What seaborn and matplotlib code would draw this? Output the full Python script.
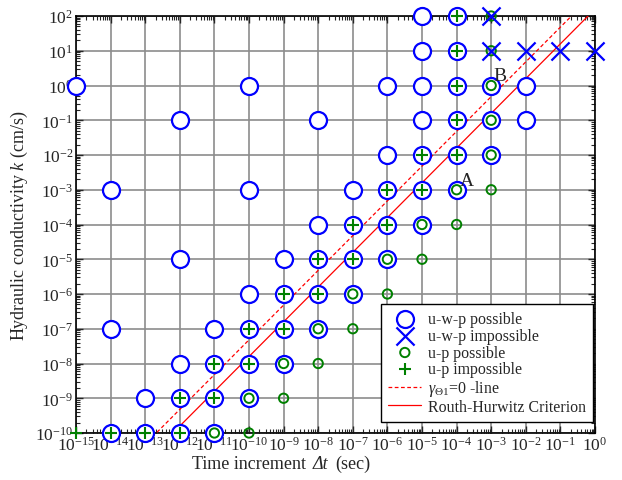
import numpy as np
import pandas as pd
import matplotlib
matplotlib.use("Agg")
import matplotlib.pyplot as plt
from matplotlib.offsetbox import TextArea, HPacker, AnchoredOffsetbox
import seaborn as sns

# ---- data (log10 of time increment, log10 of hydraulic conductivity) ----
uwp_possible_dt = [-5, -4,
                   -5, -4,
                   -15, -10, -6, -5, -4, -3, -2,
                   -12, -8, -5, -4, -3, -2,
                   -6, -5, -4, -3,
                   -14, -10, -7, -6, -5, -4,
                   -8, -7, -6, -5,
                   -12, -9, -8, -7, -6,
                   -10, -9, -8, -7,
                   -14, -11, -10, -9, -8,
                   -12, -11, -10, -9,
                   -13, -12, -11, -10,
                   -14, -13, -12, -11]
uwp_possible_k = [2, 2,
                  1, 1,
                  0, 0, 0, 0, 0, 0, 0,
                  -1, -1, -1, -1, -1, -1,
                  -2, -2, -2, -2,
                  -3, -3, -3, -3, -3, -3,
                  -4, -4, -4, -4,
                  -5, -5, -5, -5, -5,
                  -6, -6, -6, -6,
                  -7, -7, -7, -7, -7,
                  -8, -8, -8, -8,
                  -9, -9, -9, -9,
                  -10, -10, -10, -10]

uwp_impossible_dt = [-3, -3, -2, -1, 0]
uwp_impossible_k = [2, 1, 1, 1, 1]

up_possible_dt = [-3, -3, -3, -3, -3, -4, -3, -5, -4, -6, -5, -7, -6,
                  -8, -7, -9, -8, -10, -9, -11, -10]
up_possible_k = [2, 1, 0, -1, -2, -3, -3, -4, -4, -5, -5, -6, -6,
                 -7, -7, -8, -8, -9, -9, -10, -10]

up_impossible_dt = [-4, -4, -4, -4, -5, -4, -6, -5, -7, -6, -8, -7,
                    -9, -8, -10, -9, -11, -10, -12, -11, -15, -14, -13, -12]
up_impossible_k = [2, 1, 0, -1, -2, -2, -3, -3, -4, -4, -5, -5,
                   -6, -6, -7, -7, -8, -8, -9, -9, -10, -10, -10, -10]

# lines: log10(k) = log10(dt) + offset
gamma_offset = 2.68
routh_offset = 2.2
line_dt_exp = [-16, 1]

labels = ["u-w-p possible", "u-w-p impossible", "u-p possible", "u-p impossible",
          r"$\gamma_{\Theta1}$=0 -line", "Routh-Hurwitz Criterion"]
xlabel_parts = ["Time increment", "Δt", "(sec)"]
ylabel_text = r"Hydraulic conductivity $k$ (cm/s)"

# ---- style ----
sns.set_style("ticks")
plt.rcParams["font.family"] = ["Liberation Serif", "DejaVu Serif"]
plt.rcParams["mathtext.fontset"] = "custom"
plt.rcParams["mathtext.rm"] = "Liberation Serif"
plt.rcParams["mathtext.it"] = "Liberation Serif:italic"
plt.rcParams["mathtext.bf"] = "Liberation Serif:bold"

fig = plt.figure(figsize=(6.22, 4.81), dpi=100)
ax = fig.add_axes([76 / 622, 1 - 434 / 481, (595 - 76) / 622, (434 - 17) / 481])

def df(xe, ye):
    return pd.DataFrame({"dt": 10.0 ** np.array(xe, float), "k": 10.0 ** np.array(ye, float)})

blue = "#0000ff"
green = "#008000"
red = "#ff0000"

sns.scatterplot(data=df(uwp_possible_dt, uwp_possible_k), x="dt", y="k", ax=ax,
                marker="o", s=150, facecolor="white", edgecolor=blue, linewidth=1.6,
                clip_on=False, zorder=5, label=labels[0])
sns.scatterplot(data=df(up_possible_dt, up_possible_k), x="dt", y="k", ax=ax,
                marker="o", s=45, facecolor="none", edgecolor=green, linewidth=1.4,
                clip_on=False, zorder=6, label=labels[2])
sns.scatterplot(data=df(up_impossible_dt, up_impossible_k), x="dt", y="k", ax=ax,
                marker="+", s=80, color=green, linewidth=1.5,
                clip_on=False, zorder=6, label=labels[3])
sns.scatterplot(data=df(uwp_impossible_dt, uwp_impossible_k), x="dt", y="k", ax=ax,
                marker="x", s=170, color=blue, linewidth=1.6,
                clip_on=False, zorder=7, label=labels[1])

ld = 10.0 ** np.array(line_dt_exp, float)
sns.lineplot(x=ld, y=ld * 10 ** gamma_offset, ax=ax, color=red, linestyle=(0, (3, 2)),
             linewidth=0.9, zorder=4, label=labels[4])
sns.lineplot(x=ld, y=ld * 10 ** routh_offset, ax=ax, color=red, linestyle="-",
             linewidth=0.9, zorder=4, label=labels[5])

ax.set_xscale("log")
ax.set_yscale("log")
ax.set_xlim(1e-15, 1e0)
ax.set_ylim(1e-10, 1e2)
ax.set_xticks([10.0 ** e for e in range(-15, 1)])
ax.set_yticks([10.0 ** e for e in range(-10, 3)])
ax.xaxis.set_minor_locator(matplotlib.ticker.LogLocator(base=10, subs=np.arange(2, 10), numticks=100))
ax.yaxis.set_minor_locator(matplotlib.ticker.LogLocator(base=10, subs=np.arange(2, 10), numticks=100))
ax.xaxis.set_minor_formatter(matplotlib.ticker.NullFormatter())
ax.yaxis.set_minor_formatter(matplotlib.ticker.NullFormatter())
ax.tick_params(which="both", direction="in", top=True, right=True, labelsize=12.5, pad=2)
ax.tick_params(which="major", length=5, width=1)
ax.tick_params(which="minor", length=3, width=0.8)
ax.grid(True, which="major", color="#8c8c8c", linewidth=1.2)
ax.set_axisbelow(True)
for sp in ax.spines.values():
    sp.set_linewidth(1.2)
    sp.set_color("black")
    sp.set_visible(True)

ax.set_xlabel("")
ax.set_ylabel(ylabel_text, fontsize=13, labelpad=4)

# x label with an italic Greek Delta, centred where the reference puts it
lab_fs = 13
pack = HPacker(children=[
    TextArea(xlabel_parts[0], textprops=dict(fontsize=lab_fs, family="Liberation Serif")),
    TextArea(xlabel_parts[1], textprops=dict(fontsize=lab_fs, family="Liberation Serif", style="italic")),
    TextArea(xlabel_parts[2], textprops=dict(fontsize=lab_fs, family="Liberation Serif")),
], align="baseline", pad=0, sep=5)
anch = AnchoredOffsetbox(loc="center", child=pack, frameon=False, pad=0, borderpad=0,
                         bbox_to_anchor=(281 / 622, 1 - 464 / 481),
                         bbox_transform=fig.transFigure)
fig.add_artist(anch)

ax.text(10 ** -3.70, 10 ** -2.72, "A", fontsize=14, ha="center", va="center", zorder=8)
ax.text(10 ** -2.75, 10 ** 0.30, "B", fontsize=14, ha="center", va="center", zorder=8)

handles, labs = ax.get_legend_handles_labels()
order = [labs.index(l) for l in labels]
leg = ax.legend([handles[i] for i in order], [labs[i] for i in order],
                loc="lower right", bbox_to_anchor=(0.996, 0.026), fontsize=11.4,
                frameon=True, fancybox=False, edgecolor="black", framealpha=1,
                labelspacing=0.05, handlelength=2.1, handletextpad=0.4, borderpad=0.45,
                borderaxespad=0)
leg.get_frame().set_linewidth(1.0)
leg.set_zorder(10)

fig.savefig("out.png", dpi=100)
